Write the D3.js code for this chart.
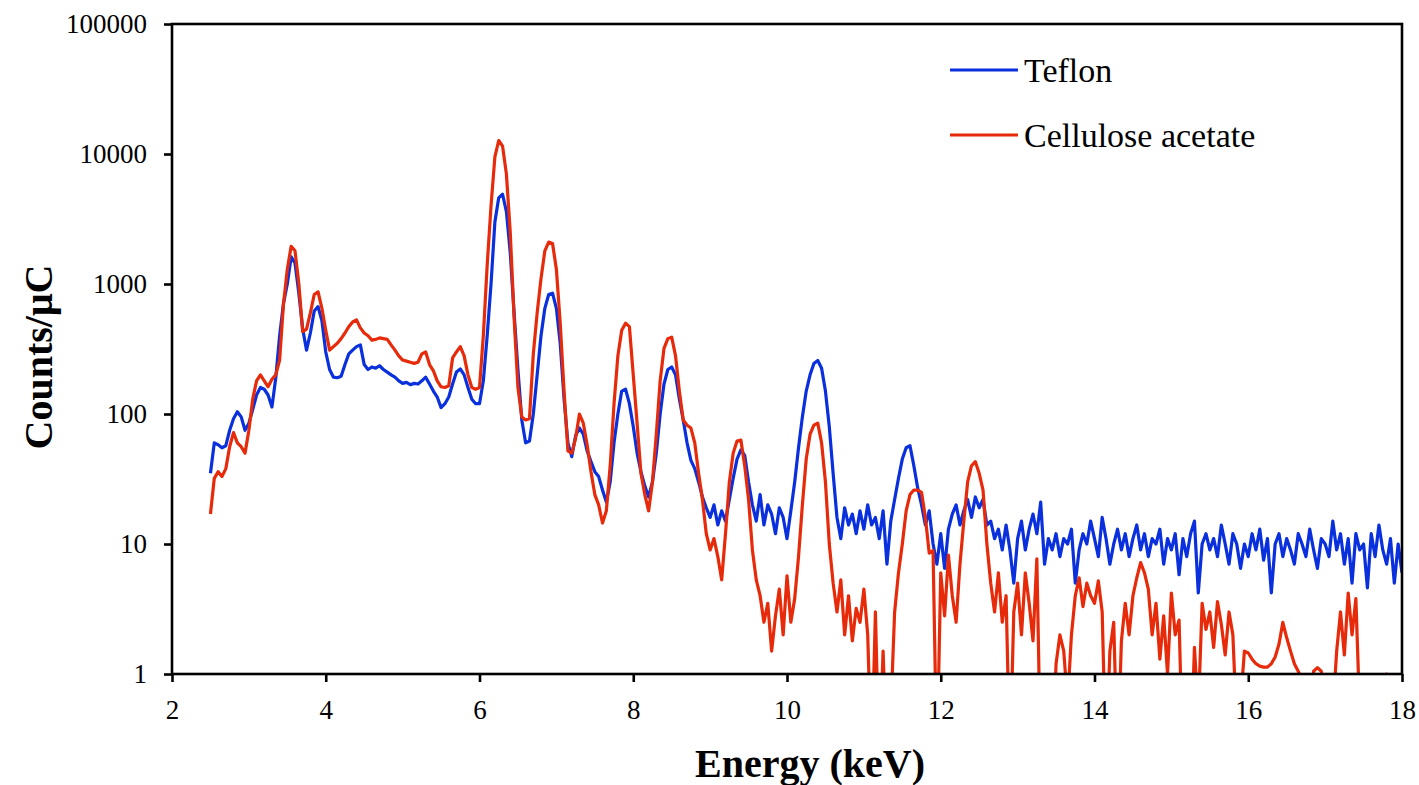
<!DOCTYPE html>
<html><head><meta charset="utf-8">
<script src="https://cdn.jsdelivr.net/npm/d3@7"></script>
<style>body{margin:0;background:#fff}svg{display:block}</style>
</head><body><svg id="c" width="1419" height="785"></svg>
<script>
// ---- data ----
const seriesNames = ["Teflon", "Cellulose acetate"];
const xTicks = [2, 4, 6, 8, 10, 12, 14, 16, 18];
const yTicks = [1, 10, 100, 1000, 10000, 100000];
const energyStart = 2.5, energyStep = 0.05, channelCount = 311;
const energy = d3.range(channelCount).map(i => +(energyStart + i * energyStep).toFixed(2));

const teflon = [
  35, 60, 58, 55, 57, 75, 92, 104, 95, 75,
  85, 108, 140, 160, 155, 140, 113, 190, 400, 710,
  1000, 1620, 1450, 850, 450, 310, 420, 620, 670, 520,
  300, 220, 192, 190, 195, 240, 290, 310, 330, 340,
  240, 220, 230, 225, 235, 220, 210, 200, 192, 180,
  172, 175, 168, 172, 170, 180, 192, 170, 150, 135,
  112, 120, 135, 170, 210, 222, 200, 160, 130, 120,
  120, 180, 400, 1000, 3000, 4600, 4900, 3600, 1740, 600,
  220, 90, 60, 62, 100, 200, 400, 650, 830, 850,
  650, 350, 130, 60, 47, 68, 78, 70, 52, 43,
  36, 33, 26, 21, 30, 60, 100, 150, 155, 120,
  80, 50, 36, 28, 23, 30, 50, 100, 170, 220,
  230, 200, 130, 90, 60, 44, 38, 30, 23, 19,
  16, 20, 14, 18, 15, 22, 32, 45, 53, 48,
  30, 20, 15, 24, 14, 20, 17, 12, 19, 16,
  11, 18, 30, 55, 95, 150, 200, 245, 258, 225,
  150, 80, 35, 16, 11, 19, 14, 17, 12, 18,
  13, 20, 14, 16, 11, 18, 7, 15, 22, 32,
  45, 55, 57, 40, 27, 20, 14, 18, 10, 7,
  12, 6.5, 13, 17, 20, 14, 18, 22, 16, 23,
  19, 22, 14, 15, 11, 13, 9, 14, 9, 5,
  11, 15, 9, 13, 17, 12, 21, 7, 11, 9,
  12, 8, 11, 10, 13, 5, 9, 12, 10, 15,
  11, 8, 16, 11, 7, 10, 13, 9, 12, 8,
  11, 14, 9, 12, 8, 11, 10, 13, 7, 11,
  9, 12, 5.8, 11, 8, 12, 15, 4.2, 10, 12,
  9, 11, 8, 14, 10, 7, 12, 10, 6.5, 10,
  8, 12, 9, 13, 7.5, 11, 4.2, 10, 12, 8,
  11, 9, 7, 12, 10, 8, 13, 9, 6.5, 11,
  10, 8, 15, 9, 12, 7, 11, 5, 12, 9,
  10, 4.6, 12, 8, 14, 9, 7, 11, 5, 10,
  6
];

const cellulose = [
  17, 32, 36, 33, 38, 56, 72, 60, 56, 50,
  75, 130, 180, 200, 180, 162, 185, 200, 260, 700,
  1300, 1950, 1800, 1000, 430, 450, 600, 830, 870, 650,
  440, 310, 330, 350, 380, 420, 470, 510, 530, 460,
  420, 400, 370, 375, 385, 380, 375, 340, 310, 280,
  260, 255, 250, 245, 250, 290, 300, 240, 215, 180,
  162, 160, 165, 270, 300, 330, 280, 200, 160, 155,
  160, 400, 1400, 4000, 9500, 12700, 11500, 7000, 2500, 550,
  160, 95, 90, 92, 290, 600, 1100, 1800, 2100, 2050,
  1300, 500, 150, 52, 50, 65, 100, 85, 58, 36,
  24, 20, 14.5, 18, 40, 120, 280, 440, 500, 470,
  200, 85, 35, 24, 18, 30, 70, 180, 320, 380,
  390, 280, 150, 90, 82, 78, 60, 35, 22, 12,
  9, 11, 8, 5.3, 12, 30, 50, 62, 63, 40,
  22, 9, 5.3, 4, 2.5, 3.5, 1.5, 2.8, 4.5, 2,
  5.7, 2.5, 3.8, 8, 20, 45, 70, 82, 85, 60,
  30, 10, 5, 3, 5.3, 2, 4, 1.8, 3.2, 2.5,
  4.5, 2, 0, 3, 0, 1.5, 0, 0.5, 3, 6,
  10, 18, 24, 26, 26, 25, 16, 8.5, 8.9, 0,
  6, 2.8, 8.2, 4, 2.5, 7, 15, 30, 40, 43,
  35, 26, 10, 5, 3, 6, 2.5, 4, 0, 3,
  5, 2, 6, 3.5, 1.8, 7.7, 0, 0, 0.5, 0,
  1.2, 2, 1.5, 0.6, 2, 4, 5.5, 3.3, 5, 4,
  3.5, 5.2, 3, 0, 1.5, 2.5, 0, 1.8, 3.5, 2,
  4, 5.5, 7.2, 6, 4.5, 2, 3.5, 1.3, 2.8, 1,
  4.2, 2, 2.6, 0, 0, 0, 1.6, 0.5, 3.5, 2.2,
  3, 1.6, 3.6, 2.4, 1.4, 3, 2, 0.4, 0.6, 1.5,
  1.45, 1.3, 1.2, 1.15, 1.13, 1.13, 1.2, 1.35, 1.7, 2.5,
  1.9, 1.5, 1.2, 1.05, 0.9, 0.4, 0.3, 1.05, 1.12, 1.05,
  0.5, 0.3, 0.5, 1.5, 3, 1.4, 4.2, 2, 3.8, 0.5,
  0.3, 0.4, 0.3, 0.5, 0.3, 0.4, 1.0, 0.4, 0.3, 0.3,
  0.3
];

const seriesColors = ["#0a30de", "#e62a0a"];

// ---- layout ----
const L = 172, R = 1402, T = 24, B = 674;
const svg = d3.select("#c");
const x = d3.scaleLinear().domain([2, 18]).range([L, R]);
const y = d3.scaleLog().domain([1, 100000]).range([B, T]);
const floorVal = 0.2;

svg.append("defs").append("clipPath").attr("id", "plotclip")
  .append("rect").attr("x", L).attr("y", T).attr("width", R - L).attr("height", B - T);

const line = d3.line()
  .x(d => x(d[0]))
  .y(d => y(Math.max(d[1], floorVal)));

const data = [teflon, cellulose].map(vals => vals.map((v, i) => [energy[i], v]));

const g = svg.append("g").attr("clip-path", "url(#plotclip)");
data.forEach((d, k) => {
  g.append("path").datum(d)
    .attr("d", line)
    .attr("fill", "none")
    .attr("stroke", seriesColors[k])
    .attr("stroke-width", 3.2)
    .attr("stroke-linejoin", "round");
});

// frame
svg.append("rect").attr("x", L).attr("y", T).attr("width", R - L).attr("height", B - T)
  .attr("fill", "none").attr("stroke", "#000").attr("stroke-width", 2.6);

const font = "'Liberation Serif','Times New Roman',serif";

// y axis
const yAxis = svg.append("g").attr("transform", `translate(${L},0)`)
  .call(d3.axisLeft(y).tickValues(yTicks).tickFormat(d3.format("d")).tickSize(8).tickPadding(17));
yAxis.select(".domain").remove();
yAxis.selectAll(".tick line").attr("stroke", "#000").attr("stroke-width", 2.6);
yAxis.selectAll(".tick text").attr("font-family", font).attr("font-size", 27).attr("fill", "#000");

// x axis
const xAxis = svg.append("g").attr("transform", `translate(0,${B})`)
  .call(d3.axisBottom(x).tickValues(xTicks).tickFormat(d3.format("d")).tickSize(8).tickPadding(18));
xAxis.select(".domain").remove();
xAxis.selectAll(".tick line").attr("stroke", "#000").attr("stroke-width", 2.6);
xAxis.selectAll(".tick text").attr("font-family", font).attr("font-size", 27).attr("fill", "#000");

// axis titles
svg.append("text").attr("x", 810).attr("y", 777).attr("text-anchor", "middle")
  .attr("font-family", font).attr("font-weight", "bold").attr("font-size", 40)
  .text("Energy (keV)");
svg.append("text").attr("transform", "translate(52,357) rotate(-90)").attr("text-anchor", "middle")
  .attr("font-family", font).attr("font-weight", "bold").attr("font-size", 40)
  .text("Counts/μC");

// legend
const legend = svg.append("g");
seriesNames.forEach((name, k) => {
  const yy = 70 + k * 65;
  legend.append("line").attr("x1", 950).attr("x2", 1018).attr("y1", yy).attr("y2", yy)
    .attr("stroke", seriesColors[k]).attr("stroke-width", 3);
  legend.append("text").attr("x", 1024).attr("y", yy + 12)
    .attr("font-family", font).attr("font-size", 34).attr("fill", "#000").text(name);
});
</script>
</body></html>
